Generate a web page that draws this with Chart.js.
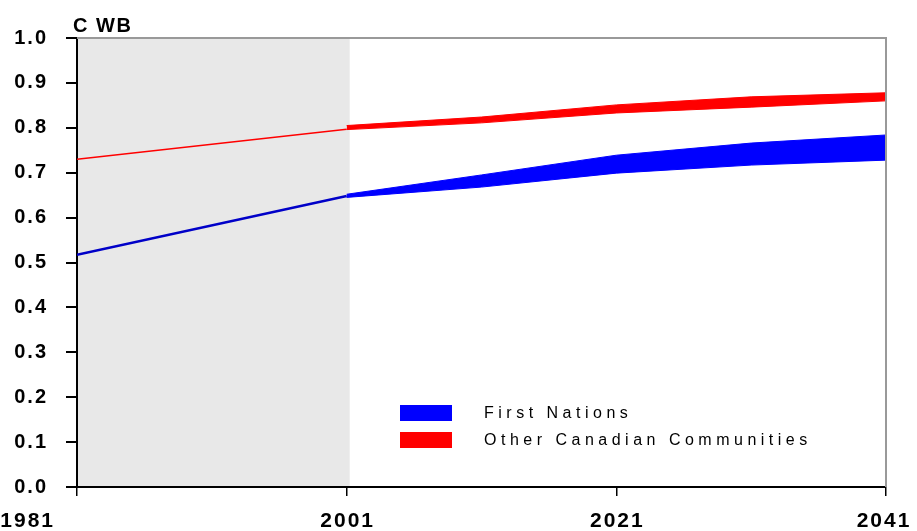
<!DOCTYPE html>
<html>
<head>
<meta charset="utf-8">
<title>CWB</title>
<script src="https://cdn.jsdelivr.net/npm/chart.js@4/dist/chart.umd.min.js"></script>
<style>
  body { margin: 0; background: #fff; }
  #wrap { width: 917px; height: 531px; }
</style>
</head>
<body>
<div id="wrap"><canvas id="cwbChart" width="917" height="531"></canvas></div>
<script>
// historical period (shaded) and projection period
const histYears = [1981, 2001];
const projYears = [2001, 2011, 2021, 2031, 2041];
const xTicks = [1981, 2001, 2021, 2041];

// First Nations
const fnHist = [0.517, 0.648];
const fnHigh = [0.652, 0.695, 0.739, 0.766, 0.784];
const fnLow = [0.645, 0.668, 0.699, 0.717, 0.728];

// Other Canadian Communities
const ocHist = [0.730, 0.797];
const ocHigh = [0.805, 0.824, 0.851, 0.869, 0.878];
const ocLow = [0.796, 0.811, 0.833, 0.846, 0.860];

const shadeFrom = 1981;
const shadeTo = 2001;

const legendItems = [
  { label: 'First Nations', color: '#0000ff' },
  { label: 'Other Canadian Communities', color: '#ff0000' }
];

const pts = (xs, ys) => xs.map((x, i) => ({ x: x, y: ys[i] }));

const BLUE = '#0000ff';
const RED = '#ff0000';
const FONT = '"Liberation Sans", Arial, sans-serif';

const lineBase = { pointRadius: 0, tension: 0, fill: false };

// grey background behind the historical years, wide-spaced axis digits
const shadePlugin = {
  id: 'shade',
  beforeDraw(chart) {
    const { ctx, chartArea: a, scales: { x } } = chart;
    const x0 = x.getPixelForValue(shadeFrom);
    const x1 = x.getPixelForValue(shadeTo);
    ctx.save();
    ctx.fillStyle = '#e8e8e8';
    ctx.fillRect(x0, a.top, x1 - x0 + 3, a.bottom - a.top);
    ctx.restore();
    ctx.letterSpacing = '2px';
  },
  beforeDatasetsDraw(chart) {
    chart.ctx.letterSpacing = '0px';
  }
};

// frame, year labels, axis caption and legend
const decorPlugin = {
  id: 'decor',
  afterDraw(chart) {
    const { ctx, chartArea: a, scales: { x } } = chart;
    ctx.save();
    ctx.strokeStyle = '#999';
    ctx.lineWidth = 2;
    ctx.beginPath();
    ctx.moveTo(a.left, a.top);
    ctx.lineTo(a.right, a.top);
    ctx.lineTo(a.right, a.bottom);
    ctx.stroke();

    // year labels: the first one sits left of its tick, the rest centred
    ctx.fillStyle = '#000';
    ctx.font = 'bold 21px ' + FONT;
    ctx.letterSpacing = '2px';
    ctx.textBaseline = 'alphabetic';
    xTicks.forEach((v, i) => {
      const px = x.getPixelForValue(v);
      if (i === 0) {
        ctx.textAlign = 'right';
        ctx.fillText(String(v), px - 22, a.bottom + 40);
      } else {
        ctx.textAlign = 'center';
        ctx.fillText(String(v), Math.min(px + 1, 884), a.bottom + 40);
      }
    });

    ctx.textAlign = 'left';
    ctx.font = 'bold 20px ' + FONT;
    ctx.letterSpacing = '1.5px';
    ctx.fillText('C WB', a.left - 4, 32);

    ctx.font = '16px ' + FONT;
    ctx.letterSpacing = '4.5px';
    ctx.textBaseline = 'middle';
    legendItems.forEach((item, i) => {
      const y = a.top + 375 + i * 27;
      ctx.fillStyle = item.color;
      ctx.fillRect(a.left + 323, y - 8, 52, 16);
      ctx.fillStyle = '#000';
      ctx.fillText(item.label, a.left + 407, y + 1);
    });
    ctx.restore();
  }
};

new Chart(document.getElementById('cwbChart'), {
  type: 'line',
  data: {
    datasets: [
      { ...lineBase, label: 'oc-hist', data: pts(histYears, ocHist), borderColor: RED, borderWidth: 1.5 },
      { ...lineBase, label: 'oc-high', data: pts(projYears, ocHigh), borderColor: RED, borderWidth: 1 },
      { ...lineBase, label: 'oc-low', data: pts(projYears, ocLow), borderColor: RED, borderWidth: 1, fill: '-1', backgroundColor: RED },
      { ...lineBase, label: 'fn-hist', data: pts(histYears, fnHist), borderColor: '#0000c8', borderWidth: 2.5 },
      { ...lineBase, label: 'fn-high', data: pts(projYears, fnHigh), borderColor: BLUE, borderWidth: 1 },
      { ...lineBase, label: 'fn-low', data: pts(projYears, fnLow), borderColor: BLUE, borderWidth: 1, fill: '-1', backgroundColor: BLUE }
    ]
  },
  options: {
    responsive: false,
    animation: false,
    layout: { padding: { top: 38, right: 31, left: 0, bottom: 0 } },
    plugins: {
      legend: { display: false },
      tooltip: { enabled: false }
    },
    scales: {
      x: {
        type: 'linear',
        min: 1981,
        max: 2041,
        afterBuildTicks: (scale) => { scale.ticks = xTicks.map(v => ({ value: v })); },
        afterFit: (scale) => { scale.height = 44; },
        border: { display: true, color: '#000', width: 2 },
        grid: { display: true, drawOnChartArea: false, drawTicks: true, tickLength: 9, color: '#000', lineWidth: 1.5 },
        ticks: { display: false }
      },
      y: {
        min: 0,
        max: 1,
        afterFit: (scale) => { scale.width = 77; },
        border: { display: true, color: '#000', width: 2 },
        grid: { display: true, drawOnChartArea: false, drawTicks: true, tickLength: 11, color: '#000', lineWidth: 2 },
        ticks: {
          stepSize: 0.1,
          padding: 18,
          color: '#000',
          font: { family: FONT, size: 20, weight: 'bold' },
          callback: (v) => Number(v).toFixed(1)
        }
      }
    }
  },
  plugins: [shadePlugin, decorPlugin]
});
</script>
</body>
</html>
